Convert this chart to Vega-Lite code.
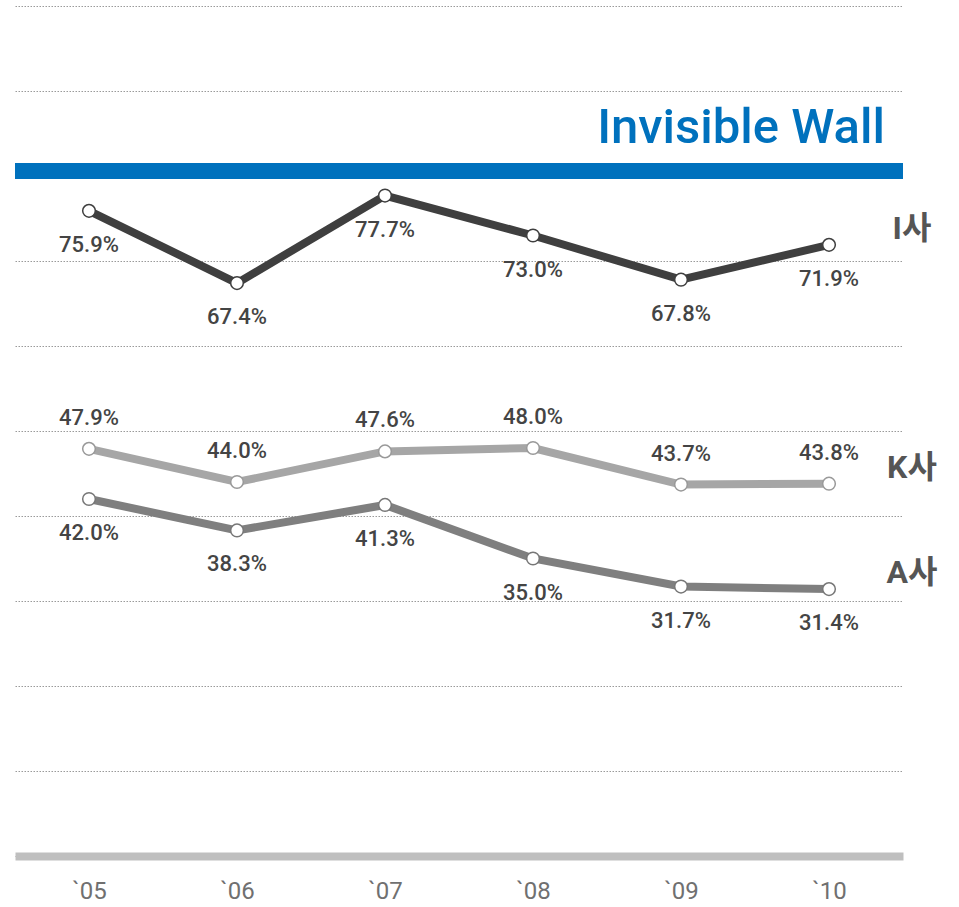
{
  "$schema": "https://vega.github.io/schema/vega-lite/v6.json",
  "width": 888,
  "height": 850,
  "autosize": "none",
  "padding": {"left": 15, "top": 6, "right": 56, "bottom": 51},
  "config": {"view": {"stroke": null}, "font": "Roboto, Noto Sans CJK KR"},
  "data": {
    "values": [
      {"year": "`05", "series": "I사", "value": 75.9},
      {"year": "`06", "series": "I사", "value": 67.4},
      {"year": "`07", "series": "I사", "value": 77.7},
      {"year": "`08", "series": "I사", "value": 73.0},
      {"year": "`09", "series": "I사", "value": 67.8},
      {"year": "`10", "series": "I사", "value": 71.9},
      {"year": "`05", "series": "K사", "value": 47.9},
      {"year": "`06", "series": "K사", "value": 44.0},
      {"year": "`07", "series": "K사", "value": 47.6},
      {"year": "`08", "series": "K사", "value": 48.0},
      {"year": "`09", "series": "K사", "value": 43.7},
      {"year": "`10", "series": "K사", "value": 43.8},
      {"year": "`05", "series": "A사", "value": 42.0},
      {"year": "`06", "series": "A사", "value": 38.3},
      {"year": "`07", "series": "A사", "value": 41.3},
      {"year": "`08", "series": "A사", "value": 35.0},
      {"year": "`09", "series": "A사", "value": 31.7},
      {"year": "`10", "series": "A사", "value": 31.4}
    ]
  },
  "layer": [
    {
      "mark": {"type": "line", "strokeWidth": 8},
      "encoding": {
        "x": {"field": "year", "type": "ordinal", "title": null,
              "scale": {"type": "point", "padding": 0.5},
              "axis": {"labelAngle": 0, "labelFontSize": 24, "labelFontWeight": "normal", "labelColor": "#707070", "labelPadding": 23,
                       "ticks": false, "domainColor": "#bfbfbf", "domainWidth": 8, "grid": false, "title": null}},
        "y": {"field": "value", "type": "quantitative", "title": null,
              "scale": {"domain": [0, 100], "nice": false},
              "axis": {"values": [0, 10, 20, 30, 40, 50, 60, 70, 80, 90, 100], "grid": true, "labels": false,
                       "ticks": false, "domain": false, "title": null,
                       "gridColor": "#9a9a9a", "gridDash": [1.5, 1.5], "gridWidth": 1}},
        "color": {"field": "series", "type": "nominal", "legend": null,
                  "scale": {"domain": ["I사", "K사", "A사"], "range": ["#3f3f3f", "#a6a6a6", "#7f7f7f"]}}
      }
    },
    {
      "data": {"values": [{}]},
      "mark": {"type": "rule", "color": "#0071BD", "strokeWidth": 16},
      "encoding": {"y": {"datum": 80.6, "type": "quantitative"}}
    },
    {
      "mark": {"type": "point", "filled": true, "fill": "white", "size": 160, "strokeWidth": 1.5, "opacity": 1},
      "encoding": {
        "x": {"field": "year", "type": "ordinal"},
        "y": {"field": "value", "type": "quantitative"},
        "stroke": {"field": "series", "type": "nominal", "legend": null,
                   "scale": {"domain": ["I사", "K사", "A사"], "range": ["#3f3f3f", "#999999", "#777777"]}}
      }
    },
    {
      "transform": [{"filter": "datum.series == 'I사'"}],
      "mark": {"type": "text", "dy": 34, "fontSize": 22, "fontWeight": 500, "color": "#444444",
               "align": "center", "baseline": "middle", "text": {"expr": "format(datum.value, '.1f') + '%'"}},
      "encoding": {"x": {"field": "year", "type": "ordinal"}, "y": {"field": "value", "type": "quantitative"}}
    },
    {
      "transform": [{"filter": "datum.series == 'K사'"}],
      "mark": {"type": "text", "dy": -31, "fontSize": 22, "fontWeight": 500, "color": "#444444",
               "align": "center", "baseline": "middle", "text": {"expr": "format(datum.value, '.1f') + '%'"}},
      "encoding": {"x": {"field": "year", "type": "ordinal"}, "y": {"field": "value", "type": "quantitative"}}
    },
    {
      "transform": [{"filter": "datum.series == 'A사'"}],
      "mark": {"type": "text", "dy": 34, "fontSize": 22, "fontWeight": 500, "color": "#444444",
               "align": "center", "baseline": "middle", "text": {"expr": "format(datum.value, '.1f') + '%'"}},
      "encoding": {"x": {"field": "year", "type": "ordinal"}, "y": {"field": "value", "type": "quantitative"}}
    },
    {
      "transform": [{"filter": "datum.year == '`10'"}],
      "mark": {"type": "text", "dx": 83, "dy": -16, "fontSize": 32, "fontWeight": "bold", "color": "#555555",
               "align": "center", "baseline": "middle"},
      "encoding": {"x": {"field": "year", "type": "ordinal"}, "y": {"field": "value", "type": "quantitative"},
                   "text": {"field": "series"}}
    },
    {
      "transform": [{"filter": "datum.year == '`10' && datum.series == 'I사'"}],
      "mark": {"type": "text", "dx": 56, "fontSize": 49, "fontWeight": 500, "color": "#0071BD",
               "align": "right", "baseline": "alphabetic", "text": "Invisible Wall"},
      "encoding": {"x": {"field": "year", "type": "ordinal"}, "y": {"datum": 83.9, "type": "quantitative"}}
    }
  ]
}
